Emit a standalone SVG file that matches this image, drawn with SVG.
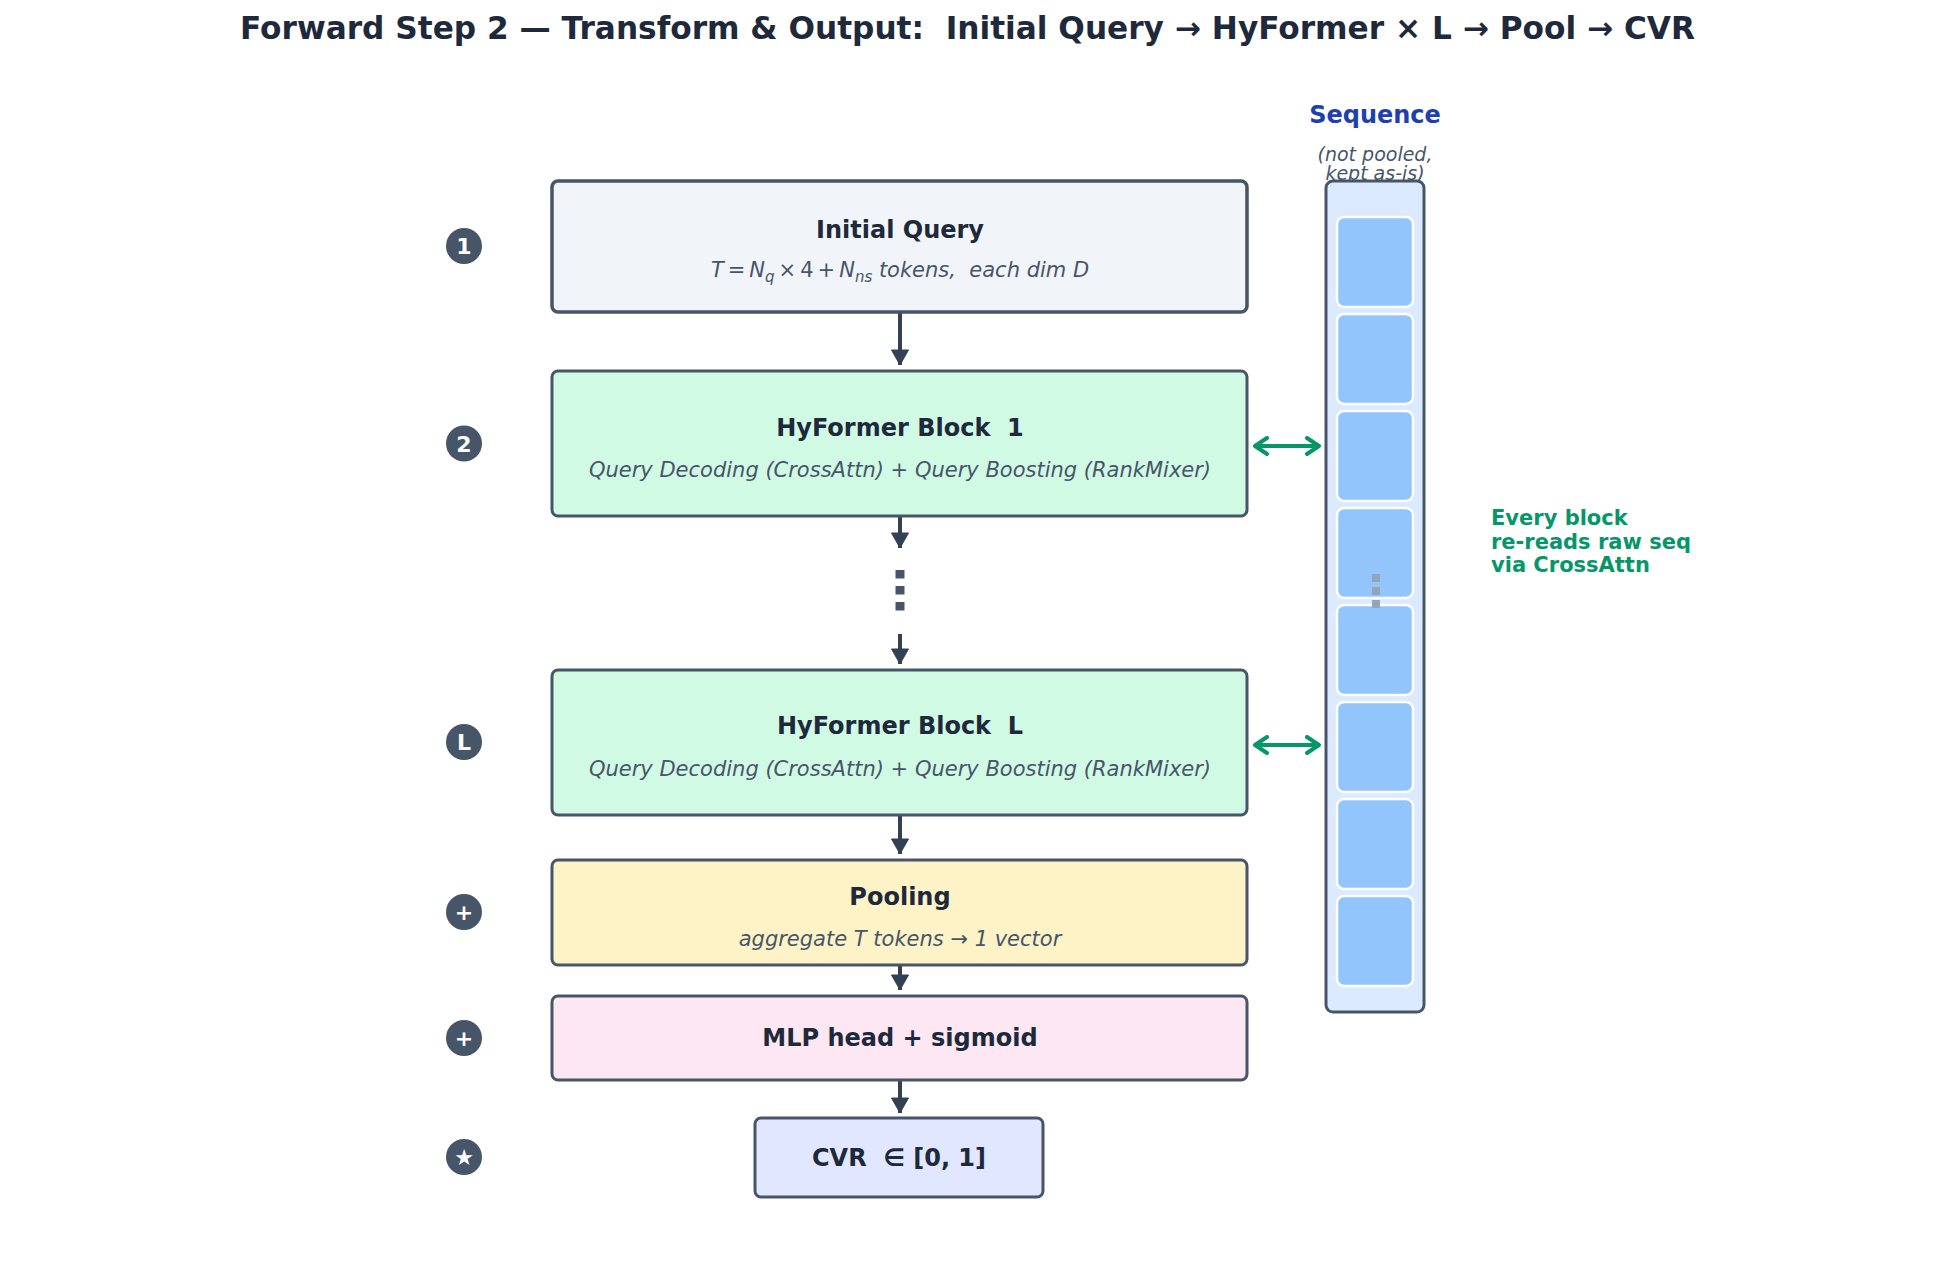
<svg xmlns="http://www.w3.org/2000/svg" width="1935" height="1279" viewBox="0 0 1935 1279">
<style>
text{font-family:"DejaVu Sans","Liberation Sans",sans-serif;white-space:pre;}
.ttl{font-size:31.2px;font-weight:bold;fill:#1e293b;text-anchor:middle;}
.box{stroke:#475569;stroke-width:3;}
.bt{font-size:24px;font-weight:bold;fill:#1e293b;text-anchor:middle;}
.bs{font-size:21px;font-style:italic;fill:#475569;text-anchor:middle;}
.circ{fill:#475569;}
.cl{font-size:22px;font-weight:bold;fill:#ffffff;text-anchor:middle;}
.flow{stroke:#334155;stroke-width:4;fill:none;}
.cross{stroke:#059669;stroke-width:4;fill:none;}
.cell{fill:#93c5fd;stroke:#ffffff;stroke-width:2.5;}
</style>
<defs>
<marker id="ah" markerUnits="userSpaceOnUse" markerWidth="18" markerHeight="18" viewBox="0 0 16 18" refX="15" refY="9" orient="auto">
<path d="M0,0.5 L15,9 L0,17.5 Z" fill="#334155" stroke="#334155" stroke-width="1" stroke-linejoin="round"/>
</marker>
<marker id="gh" markerUnits="userSpaceOnUse" markerWidth="20" markerHeight="20" viewBox="0 0 20 20" refX="16" refY="10" orient="auto-start-reverse">
<path d="M4,2 L16,10 L4,18" fill="none" stroke="#059669" stroke-width="4" stroke-linecap="round" stroke-linejoin="round"/>
</marker>
</defs>
<rect width="1935" height="1279" fill="#ffffff"/>
<text class="ttl" x="967.5" y="39">Forward Step 2 — Transform &amp; Output:  Initial Query → HyFormer × L → Pool → CVR</text>

<g id="connectors">
<line class="flow" x1="900" y1="313" x2="900" y2="365" marker-end="url(#ah)"/>
<line class="flow" x1="900" y1="516" x2="900" y2="548" marker-end="url(#ah)"/>
<line x1="900" y1="570" x2="900" y2="611" stroke="#475569" stroke-width="9" stroke-dasharray="8.5,7.5"/>
<line class="flow" x1="900" y1="634" x2="900" y2="664" marker-end="url(#ah)"/>
<line class="flow" x1="900" y1="815" x2="900" y2="854" marker-end="url(#ah)"/>
<line class="flow" x1="900" y1="966" x2="900" y2="990" marker-end="url(#ah)"/>
<line class="flow" x1="900" y1="1080" x2="900" y2="1113" marker-end="url(#ah)"/>
<line class="cross" x1="1255" y1="446" x2="1319" y2="446" marker-start="url(#gh)" marker-end="url(#gh)"/>
<line class="cross" x1="1255" y1="745" x2="1319" y2="745" marker-start="url(#gh)" marker-end="url(#gh)"/>
</g>

<g id="initial-query">
<rect class="box" x="552" y="181" width="695" height="131" rx="6" fill="#f1f5f9" style="stroke-width:3.5"/>
<text class="bt" x="900" y="238">Initial Query</text>
<text class="bs" x="900" y="277"><tspan>T</tspan><tspan font-style="normal" dx="4">=</tspan><tspan dx="4">N</tspan><tspan font-size="15" dy="5">q</tspan><tspan font-style="normal" dy="-5" dx="4">×</tspan><tspan font-style="normal" dx="4">4</tspan><tspan font-style="normal" dx="4">+</tspan><tspan dx="4">N</tspan><tspan font-size="15" dy="5">ns</tspan><tspan dy="-5"> tokens,  each dim D</tspan></text>
<circle class="circ" cx="464" cy="246" r="18"/>
<text class="cl" x="464" y="254">1</text>
</g>

<g id="block-1">
<rect class="box" x="552" y="371" width="695" height="145" rx="6" fill="#d1fae5"/>
<text class="bt" x="900" y="435.5">HyFormer Block  1</text>
<text class="bs" x="900" y="477">Query Decoding (CrossAttn) + Query Boosting (RankMixer)</text>
<circle class="circ" cx="464" cy="443.5" r="18"/>
<text class="cl" x="464" y="451.5">2</text>
</g>

<g id="block-L">
<rect class="box" x="552" y="670" width="695" height="145" rx="6" fill="#d1fae5"/>
<text class="bt" x="900" y="734">HyFormer Block  L</text>
<text class="bs" x="900" y="776">Query Decoding (CrossAttn) + Query Boosting (RankMixer)</text>
<circle class="circ" cx="464" cy="742" r="18"/>
<text class="cl" x="464" y="750">L</text>
</g>

<g id="pooling">
<rect class="box" x="552" y="860" width="695" height="105" rx="6" fill="#fef3c7"/>
<text class="bt" x="900" y="904.5">Pooling</text>
<text class="bs" x="900" y="946">aggregate T tokens → 1 vector</text>
<circle class="circ" cx="464" cy="912" r="18"/>
<text class="cl" x="464" y="920">+</text>
</g>

<g id="mlp-head">
<rect class="box" x="552" y="996" width="695" height="84" rx="6" fill="#fce7f3"/>
<text class="bt" x="900" y="1045.5">MLP head + sigmoid</text>
<circle class="circ" cx="464" cy="1038" r="18"/>
<text class="cl" x="464" y="1046">+</text>
</g>

<g id="cvr">
<rect class="box" x="755" y="1118" width="288" height="79" rx="6" fill="#e0e7ff"/>
<text class="bt" x="899" y="1165.5">CVR  ∈ [0, 1]</text>
<circle class="circ" cx="464" cy="1157" r="18"/>
<text class="cl" x="464" y="1165">★</text>
</g>

<g id="sequence">
<text x="1375" y="123" font-size="24" font-weight="bold" fill="#1e40af" text-anchor="middle">Sequence</text>
<text x="1375" y="161" font-size="19" font-style="italic" fill="#475569" text-anchor="middle">(not pooled,</text>
<text x="1375" y="180" font-size="19" font-style="italic" fill="#475569" text-anchor="middle">kept as-is)</text>
<rect x="1326" y="181" width="98" height="831" rx="7" fill="#dbeafe" stroke="#475569" stroke-width="3"/>
<rect class="cell" x="1337" y="217" width="76" height="90" rx="7"/>
<rect class="cell" x="1337" y="314" width="76" height="90" rx="7"/>
<rect class="cell" x="1337" y="411" width="76" height="90" rx="7"/>
<rect class="cell" x="1337" y="508" width="76" height="90" rx="7"/>
<rect class="cell" x="1337" y="605" width="76" height="90" rx="7"/>
<rect class="cell" x="1337" y="702" width="76" height="90" rx="7"/>
<rect class="cell" x="1337" y="799" width="76" height="90" rx="7"/>
<rect class="cell" x="1337" y="896" width="76" height="90" rx="7"/>
<rect x="1372" y="574" width="8" height="8" fill="#94a3b8"/>
<rect x="1372" y="587" width="8" height="8" fill="#94a3b8"/>
<rect x="1372" y="600" width="8" height="8" fill="#94a3b8"/>
</g>

<g id="note">
<text x="1491" y="525" font-size="21" font-weight="bold" fill="#059669">Every block</text>
<text x="1491" y="548.5" font-size="21" font-weight="bold" fill="#059669">re-reads raw seq</text>
<text x="1491" y="572" font-size="21" font-weight="bold" fill="#059669">via CrossAttn</text>
</g>
</svg>
